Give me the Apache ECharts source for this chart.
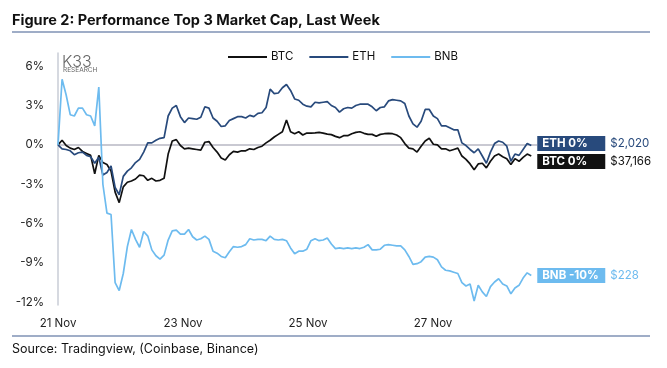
<!DOCTYPE html>
<html><head><meta charset="utf-8">
<script src="https://cdn.jsdelivr.net/npm/echarts@6/dist/echarts.min.js"></script>
<style>html,body{margin:0;padding:0;background:#fff}#c{width:667px;height:368px}</style>
</head><body><div id="c"></div>
<script>
// minutes since 21 Nov 00:00, one sample every 94 minutes
const minutes = Array.from({length:117},(_,i)=>i*94);
const xTickLabels = ['21 Nov','23 Nov','25 Nov','27 Nov'];
const yTickValues = [-12,-9,-6,-3,0,3,6];
const btc = [0,0.35,-0.05,-0.25,-0.35,-0.2,-0.5,-0.65,-0.8,-2.2,-0.8,-1.35,-1.5,-2.0,-3.6,-4.4,-3.2,-2.85,-2.75,-2.6,-2.3,-2.35,-2.7,-2.55,-2.75,-2.7,-2.55,-0.7,0.3,0.4,-0.05,-0.3,-0.25,-0.3,-0.35,-0.4,0.2,0.25,-0.2,-0.55,-1.0,-1.15,-0.75,-0.5,-0.55,-0.45,-0.45,-0.3,-0.35,-0.2,-0.1,0.15,0.35,0.6,0.8,1.0,1.9,1.0,0.85,1.0,0.75,0.9,0.9,0.92,0.95,0.9,0.82,0.78,0.65,0.55,0.7,0.7,0.85,0.95,1.0,0.88,0.8,0.8,0.65,0.8,0.85,0.88,0.85,0.75,0.55,0.1,-0.25,-0.3,-0.55,-0.1,0.3,0.5,0.05,0.0,-0.3,-0.3,-0.45,-0.35,-0.25,-0.85,-1.1,-1.45,-1.9,-1.45,-1.4,-1.75,-1.25,-0.85,-0.7,-0.9,-1.05,-1.5,-1.05,-1.25,-0.95,-0.7,-0.85];
const eth = [0,-0.3,-0.35,-0.45,-0.75,-0.6,-0.55,-0.8,-0.9,-1.4,-0.95,-2.3,-2.1,-1.6,-3.25,-3.8,-2.4,-2.0,-1.75,-1.35,-1.1,-0.55,0.15,0.15,0.35,0.5,0.55,2.2,2.8,3.0,2.15,1.7,2.05,2.0,1.95,2.1,2.9,2.8,2.05,1.8,1.4,1.45,1.85,2.0,2.15,2.15,2.05,2.25,2.15,2.4,2.45,2.85,4.25,3.9,3.95,4.35,4.6,4.15,3.5,3.4,3.1,2.95,2.9,3.25,3.2,3.25,3.3,3.0,2.85,2.5,2.75,2.85,2.8,3.0,3.1,3.1,3.1,2.9,2.6,2.85,2.9,3.35,3.45,3.4,3.35,3.15,2.2,1.6,1.35,1.8,2.7,2.7,2.2,2.0,1.45,1.45,1.3,1.15,1.15,0.15,-0.05,-0.35,-0.6,-0.3,-0.85,-1.4,-0.55,0.1,0.3,0.2,-0.1,-1.25,-0.7,-0.8,-0.35,0.1,-0.05];
const bnb = [0,5.0,3.8,2.3,2.2,2.8,2.8,2.3,2.2,1.45,4.4,-3.0,-5.2,-5.3,-10.5,-11.1,-9.8,-7.75,-6.45,-7.2,-7.8,-6.6,-6.95,-8.0,-8.45,-8.7,-8.4,-7.25,-6.55,-6.5,-6.8,-6.8,-6.45,-7.0,-7.25,-7.15,-6.95,-7.2,-8.1,-8.25,-8.5,-8.6,-8.15,-7.75,-7.8,-7.75,-7.6,-7.15,-7.25,-7.2,-7.2,-7.3,-6.95,-7.2,-7.25,-7.2,-7.3,-7.85,-8.3,-8.1,-8.1,-7.95,-7.3,-7.15,-7.3,-7.25,-7.1,-7.55,-7.9,-7.85,-7.9,-7.85,-7.9,-7.85,-7.9,-7.8,-7.6,-8.0,-8.0,-7.95,-7.65,-7.6,-7.65,-7.7,-7.7,-8.0,-8.5,-9.1,-9.05,-8.9,-8.55,-8.5,-8.55,-8.75,-9.3,-9.55,-9.6,-9.7,-9.8,-10.5,-10.75,-10.6,-11.9,-10.7,-11.2,-11.55,-10.8,-10.45,-10.2,-10.6,-10.75,-11.35,-10.9,-10.7,-10.15,-9.75,-9.95];
const endTags = {BTC:['BTC 0%','$37,166'], ETH:['ETH 0%','$2,020'], BNB:['BNB -10%','$228']};
const colors = {BTC:'#111111', ETH:'#284a7c', BNB:'#6dbbef'};
const FONT = 'Inter';
const DAY = 1440;

function pairs(v){ return v.map((y,i)=>[minutes[i],y]); }
function mkSeries(name, vals, dy){
  return {
    name, type:'line', data:pairs(vals), symbol:'none', showSymbol:false,
    lineStyle:{color:colors[name], width:1.7}, itemStyle:{color:colors[name]},
    endLabel:{show:true, distance:6, offset:[0,dy],
      formatter:()=>'{a|'+endTags[name][0]+'}{v|'+endTags[name][1]+'}',
      rich:{
        a:{backgroundColor:colors[name], color:'#fff', fontWeight:'bold', fontSize:11.5, fontFamily:FONT,
           width:63, height:15, lineHeight:15, padding:[0,0,0,5]},
        v:{color:colors[name], fontSize:11.5, fontFamily:FONT, padding:[0,0,0,5]}
      }},
    animation:false
  };
}

const chart = echarts.init(document.getElementById('c'), null, {renderer:'canvas'});
const s0 = mkSeries('BTC', btc, 5.5);
s0.markLine = {silent:true, symbol:'none', z:1, label:{show:false},
  lineStyle:{color:'#c9c9d2', width:2, type:'solid'}, data:[{yAxis:0}]};
chart.setOption({
  animation:false,
  textStyle:{fontFamily:FONT},
  title:{text:'Figure 2: Performance Top 3 Market Cap, Last Week', left:12, top:13, padding:0,
    textStyle:{fontSize:14.5, fontWeight:'bold', color:'#111', fontFamily:FONT}},
  legend:{left:223, top:46, itemWidth:39, itemHeight:2, itemGap:16, icon:'rect',
    textStyle:{fontSize:11.5, color:'#111', fontFamily:FONT, padding:[0,0,0,-1]},
    data:['BTC','ETH','BNB']},
  grid:{left:58, right:130, top:53, bottom:63},
  xAxis:{type:'value', min:0, max:7.664*DAY, interval:2*DAY,
    axisLine:{show:false}, axisTick:{show:false}, splitLine:{show:false},
    axisLabel:{margin:13, fontSize:11.5, color:'#222', showMaxLabel:false,
      formatter:v=>xTickLabels[Math.round(v/(2*DAY))]||''}},
  yAxis:{type:'value', min:-12.2, max:7,
    axisLine:{show:true, lineStyle:{color:'#c9ccd6', width:1.5}},
    axisTick:{show:false}, splitLine:{show:false},
    axisLabel:{customValues:yTickValues, margin:14, fontSize:11.5, color:'#222', formatter:v=>v+'%'}},
  series:[s0, mkSeries('ETH', eth, -2), mkSeries('BNB', bnb, 0)],
  graphic:[
    {type:'line', shape:{x1:12,y1:32,x2:650,y2:32}, style:{stroke:'#7f92b4', lineWidth:1.5}},
    {type:'line', shape:{x1:12,y1:336,x2:650,y2:336}, style:{stroke:'#7f92b4', lineWidth:1.5}},
    {type:'text', left:12, top:343, style:{text:'Source: Tradingview, (Coinbase, Binance)', fontSize:12.5, fill:'#111', fontFamily:FONT}},
    {type:'text', left:62, top:54, style:{text:'K33', fontSize:16, fill:'#666', fontFamily:FONT, fontWeight:300}},
    {type:'text', left:63, top:67, style:{text:'RESEARCH', fontSize:6.5, fill:'#666', fontFamily:FONT}}
  ]
});
</script></body></html>
